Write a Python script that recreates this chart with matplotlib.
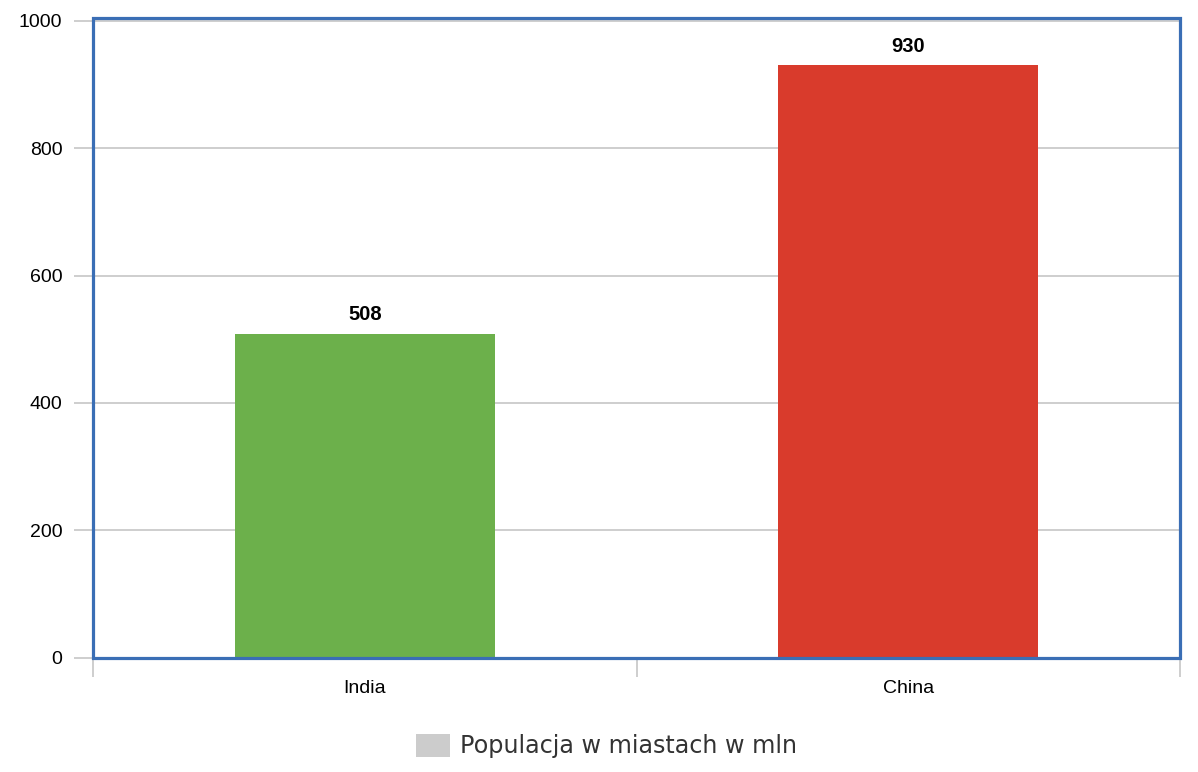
import numpy as np
import matplotlib.pyplot as plt
from matplotlib.patches import Rectangle, Patch

countries = ["India", "China"]
population = [508, 930]
bar_colors = ["#6cb04b", "#d93b2c"]
y_ticks = [0, 200, 400, 600, 800, 1000]
legend_label = "Populacja w miastach w mln"

fig = plt.figure(figsize=(11.98, 7.72), dpi=100)
ax = fig.add_axes([93 / 1198, 1 - 657.5 / 772, 1087 / 1198, 639.5 / 772])

x = np.arange(len(countries))
bars = ax.bar(x, population, width=0.478, color=bar_colors, zorder=3)
for b, v in zip(bars, population):
    ax.annotate(str(v), (b.get_x() + b.get_width() / 2, v), xytext=(0, 7),
                textcoords="offset points", ha="center", va="bottom",
                fontsize=14.5, fontweight="bold", family="Liberation Sans")

ax.set_xlim(-0.5, 1.5)
ax.set_ylim(0, 1004.5)
ax.set_yticks(y_ticks)
ax.set_yticklabels([str(t) for t in y_ticks], fontsize=14, family="Liberation Sans")
ax.yaxis.grid(True, color="#c6c6c6", linewidth=1.2, zorder=0)
ax.tick_params(axis="y", length=14, color="#c6c6c6", width=1.2, pad=8)

# category boundaries as ticks, labels in between
ax.set_xticks([-0.5, 0.5, 1.5])
ax.set_xticklabels([])
ax.set_xticks(x, minor=True)
ax.set_xticklabels(countries, minor=True, fontsize=14, family="Liberation Sans")
ax.tick_params(axis="x", which="major", length=14, color="#c6c6c6", width=1.2)
ax.tick_params(axis="x", which="minor", length=0, pad=16)

for s in ["top", "right", "left"]:
    ax.spines[s].set_visible(False)
ax.spines["bottom"].set_color("#c6c6c6")
ax.spines["bottom"].set_linewidth(1.2)

# blue frame around the plot area
ax.add_patch(Rectangle((0, 0), 1, 1, transform=ax.transAxes, fill=False,
                       edgecolor="#3a6eb5", linewidth=2.3, zorder=5, clip_on=False))

fig.legend(handles=[Patch(facecolor="#cccccc", edgecolor="none", label=legend_label)],
           loc="center", bbox_to_anchor=(0.5065, 1 - 746 / 772), frameon=False,
           handlelength=1.4, handleheight=1.15, handletextpad=0.45,
           prop={"family": "DejaVu Sans", "size": 17.2}, labelcolor="#333333")

fig.savefig("out.png", dpi=100)
